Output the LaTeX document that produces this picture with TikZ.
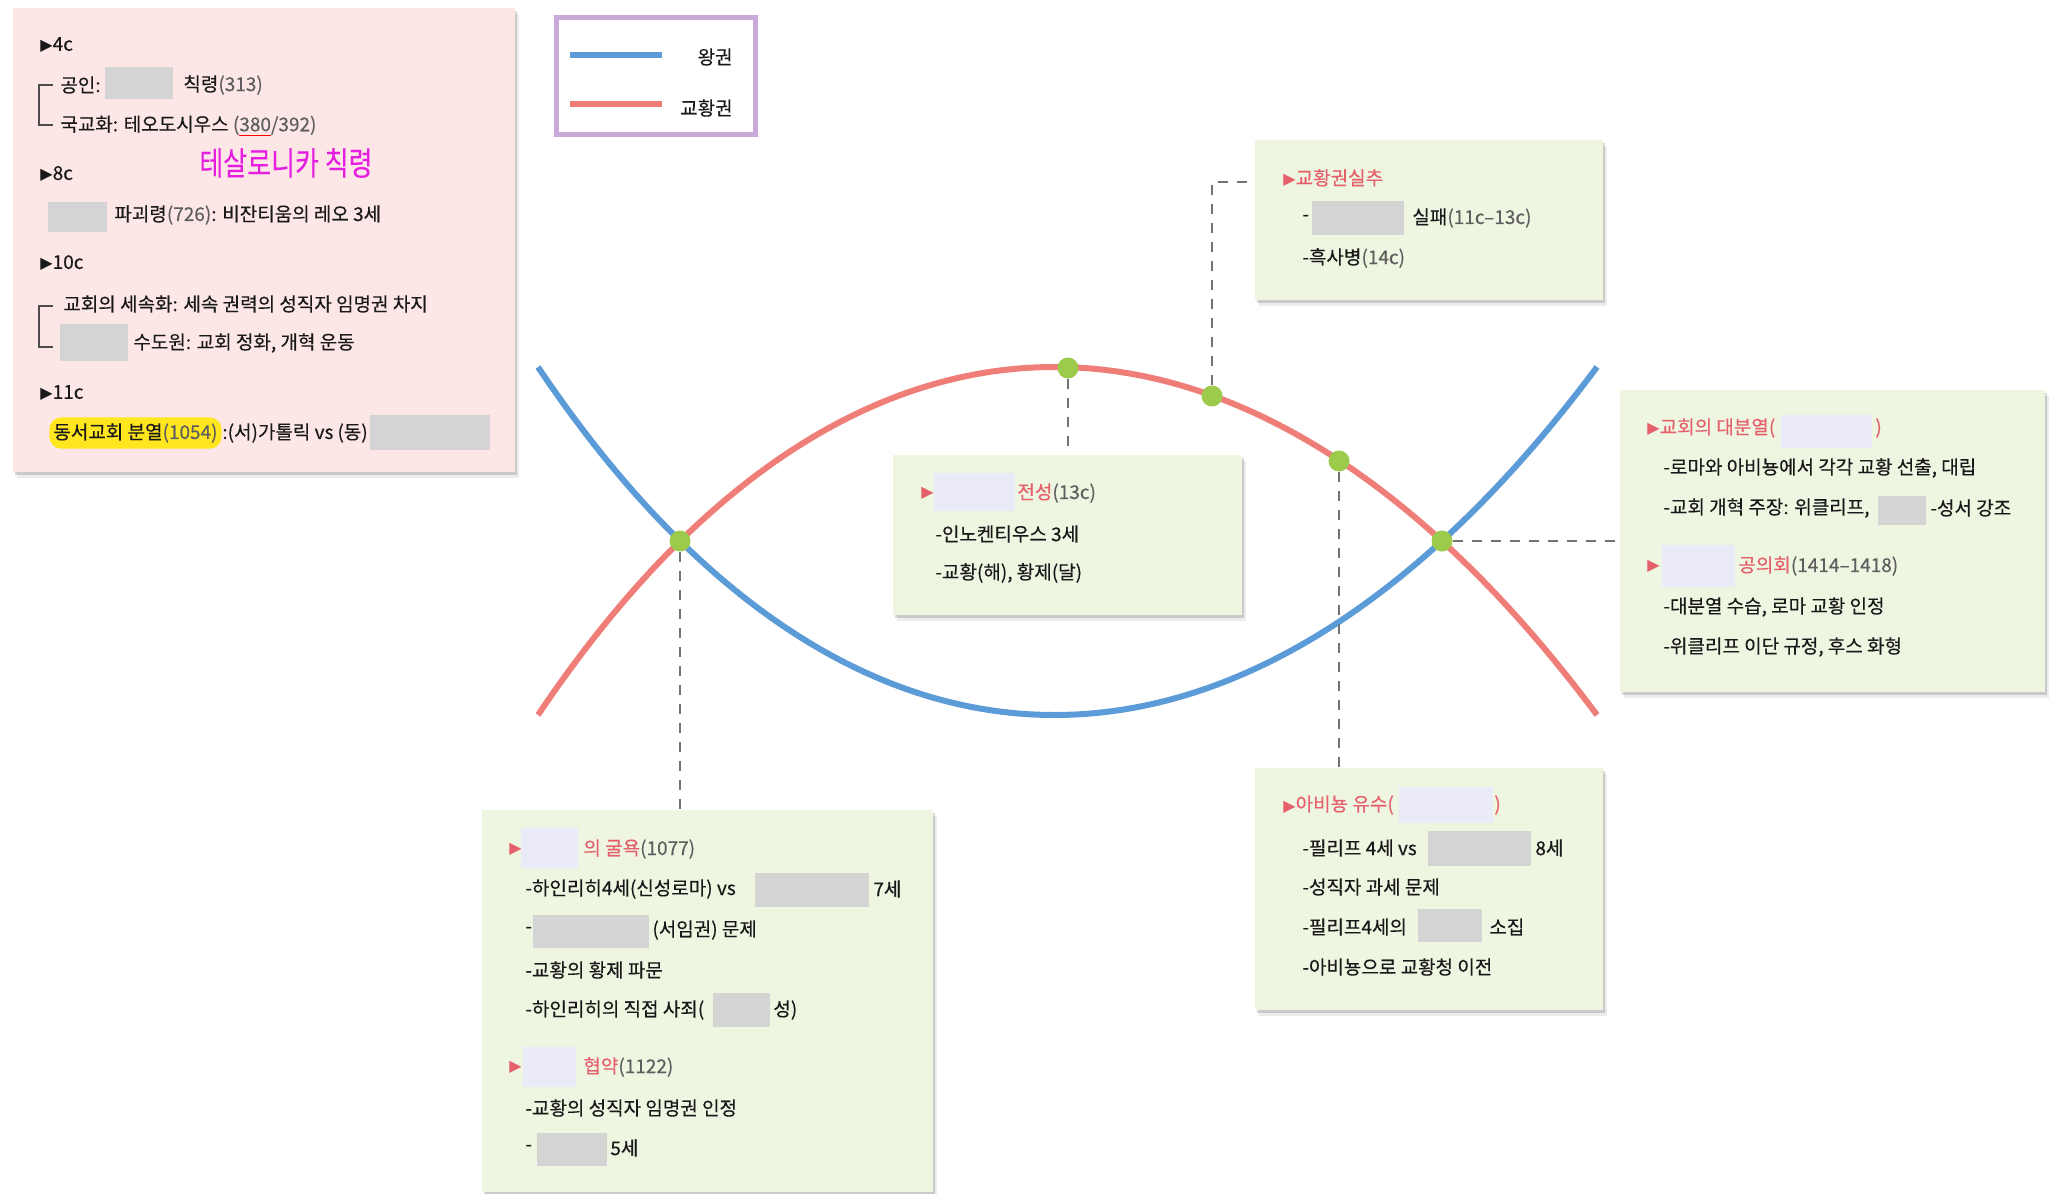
\documentclass[tikz,border=0pt]{standalone}
\usepackage{fontspec}
\setmainfont{Noto Sans CJK KR}[UprightFeatures={FakeBold=0.3}]
\newfontfamily\symf{DejaVu Sans}
\usetikzlibrary{fit,shadows,positioning}

\definecolor{kingblue}{HTML}{5A9BD8}
\definecolor{popered}{HTML}{F07E78}
\definecolor{titlered}{HTML}{E5606A}
\definecolor{numgray}{HTML}{5E5E5E}
\definecolor{blankgray}{HTML}{D4D4D4}
\definecolor{blanklav}{HTML}{EAEAF9}
\definecolor{panelgreen}{HTML}{EEF5E1}
\definecolor{panelpink}{HTML}{FCE7E6}
\definecolor{legendpurple}{HTML}{C9A9D7}
\definecolor{dotgreen}{HTML}{9CCB4B}
\definecolor{hlyellow}{HTML}{FFE61E}
\definecolor{penmagenta}{HTML}{E61EE0}

\newcommand{\kr}{\fontsize{9.5}{11}\selectfont}
\newcommand{\tri}{{\symf\fontsize{8}{8}\selectfont ▶}}
\newcommand{\nm}[1]{\textcolor{numgray}{#1}}
\newcommand{\rt}[1]{\textcolor{titlered}{#1}}
\newcommand{\redul}[1]{\setbox0\hbox{#1}\rlap{\color{red}\rule[-2.6pt]{\wd0}{0.6pt}}#1}

\NewDocumentCommand{\blankbox}{O{blankgray}mm}{%
\fill[#1] #2 rectangle #3;%
}

\tikzset{
  panel/.style={fill=panelgreen, inner sep=0pt,
    drop shadow={shadow xshift=1pt, shadow yshift=-1.5pt, opacity=.25, fill=black!60},
    drop shadow={shadow xshift=2pt, shadow yshift=-3pt, opacity=.12, fill=black!60}},
  pinkpanel/.style={panel, fill=panelpink},
  legendbox/.style={draw=legendpurple, line width=2.5pt, fill=white, inner sep=0pt},
  txt/.style={anchor=west, inner sep=0pt, font=\kr, text=black!90},
  pen/.style={inner sep=0pt, font=\fontsize{13}{14}\selectfont, text=penmagenta},
  kingline/.style={draw=kingblue, line width=3pt},
  popeline/.style={draw=popered, line width=3pt},
  dot/.style={circle, fill=dotgreen, minimum size=10.5pt, inner sep=0pt},
  conn/.style={draw=black!55, line width=1pt, dash pattern=on 5pt off 4.5pt},
  brk/.style={draw=black!70, line width=0.6pt},
}

\begin{document}
\begin{tikzpicture}[x=0.5pt, y=-0.5pt]
        \useasboundingbox (0,0) rectangle (2058,1194);
        \fill[white] (0,0) rectangle (2058,1194);

        % early church
        \node[pinkpanel, fit={(13,8) (515,472)}] (early) {};
        \node[txt] (c4) at (40,45) {\tri{}4c};
        \draw[brk] (53,85) -- (39,85) -- (39,125) -- (53,125);
        \node[txt] (c4a) at (60,85) {공인:};
        \blankbox{(105,67)}{(173,99)}
        \node[txt] (c4b) at (183,85) {칙령\nm{(313)}};
        \node[txt] (c4c) at (60,126) {국교화: 테오도시우스 \nm{(\redul{380}/392)}};
        \node[pen] (memo) at (286,163) {\scalebox{1}[1.25]{테살로니카 칙령}};
        \node[txt] (c8) at (40,174) {\tri{}8c};
        \blankbox{(48,202)}{(107,232)}
        \node[txt] (c8a) at (114,215) {파괴령\nm{(726)}: 비잔티움의 레오 3세};
        \node[txt] (c10) at (40,263) {\tri{}10c};
        \draw[brk] (53,306) -- (39,306) -- (39,347) -- (53,347);
        \node[txt] (c10a) at (63,304) {교회의 세속화: 세속 권력의 성직자 임명권 차지};
        \blankbox{(60,324)}{(128,361)}
        \node[txt] (c10b) at (133,343) {수도원: 교회 정화, 개혁 운동};
        \node[txt] (c11) at (40,393) {\tri{}11c};
        \node[txt, fill=hlyellow, rounded corners=6pt, inner xsep=2pt, inner ysep=3pt] (split) at (49,433) {동서교회 분열\nm{(1054)}};
        \node[txt, right=0pt of split] (split2) {:(서)가톨릭 vs\hspace{2pt}(동)};
        \blankbox{(370,415)}{(490,450)}

        % legend
        \node[legendbox, fit={(556,17) (755,134)}] (legend) {};
        \draw[kingline] (570,55) -- (662,55);
        \draw[popeline] (570,104) -- (662,104);
        \node[txt, anchor=east] (lking) at (733,57) {왕권};
        \node[txt, anchor=east] (lpope) at (733,108) {교황권};

        % curves
        \draw[kingline] (538,367) .. controls (849.3,831) and (1251.1,831) .. (1597,367);
        \draw[popeline] (538,715) .. controls (849.3,251) and (1251.1,251) .. (1597,715);

        % panels
        \node[panel, fit={(1255,140) (1603,300)}] (fall) {};
        \node[panel, fit={(893,455) (1242,615)}] (peak) {};
        \node[panel, fit={(1620,390) (2045,692)}] (schism) {};
        \node[panel, fit={(482,810) (933,1192)}] (hum) {};
        \node[panel, fit={(1255,768) (1603,1010)}] (avi) {};

        % decline
        \node[txt] (f1) at (1283,178) {\rt{\tri{}교황권실추}};
        \node[txt] (f2) at (1302,218) {-};
        \blankbox{(1312,201)}{(1404,235)}
        \node[txt] (f3) at (1412,218) {실패\nm{(11c--13c)}};
        \node[txt] (f4) at (1302,258) {-흑사병\nm{(14c)}};

        % 13c
        \node[txt, text=titlered] (p0) at (921,493) {\tri};
        \blankbox[blanklav]{(934,473)}{(1015,511)}
        \node[txt] (p1) at (1017,493) {\rt{전성}\nm{(13c)}};
        \node[txt] (p2) at (935,534) {-인노켄티우스 3세};
        \node[txt] (p3) at (935,573) {-교황(해), 황제(달)};

        % schism
        \node[txt] (s1) at (1647,428) {\rt{\tri{}교회의 대분열(}};
        \blankbox[blanklav]{(1781,415)}{(1872,448)}
        \node[txt] (s2) at (1875,428) {\rt{)}};
        \node[txt] (s3) at (1663,468) {-로마와 아비뇽에서 각각 교황 선출, 대립};
        \node[txt] (s4) at (1663,508) {-교회 개혁 주장: 위클리프,};
        \blankbox{(1878,496)}{(1926,525)}
        \node[txt] (s5) at (1930,508) {-성서 강조};
        \node[txt, text=titlered] (s6) at (1647,566) {\tri};
        \blankbox[blanklav]{(1662,545)}{(1735,587)}
        \node[txt] (s7) at (1738,566) {\rt{공의회}\nm{(1414--1418)}};
        \node[txt] (s8) at (1663,607) {-대분열 수습, 로마 교황 인정};
        \node[txt] (s9) at (1663,647) {-위클리프 이단 규정, 후스 화형};

        % 1077
        \node[txt, text=titlered] (h0) at (509,849) {\tri};
        \blankbox[blanklav]{(521,828)}{(578,868)}
        \node[txt] (h1) at (583,849) {\rt{의 굴욕}\nm{(1077)}};
        \node[txt] (h2) at (525,889) {-하인리히4세(신성로마) vs};
        \blankbox{(755,873)}{(869,907)}
        \node[txt] (h3) at (873,889) {7세};
        \node[txt] (h4) at (525,930) {-};
        \blankbox{(533,915)}{(649,948)}
        \node[txt] (h5) at (652,930) {(서임권) 문제};
        \node[txt] (h6) at (525,970) {-교황의 황제 파문};
        \node[txt] (h7) at (525,1010) {-하인리히의 직접 사죄(};
        \blankbox{(713,993)}{(770,1027)}
        \node[txt] (h8) at (773,1010) {성)};
        \node[txt, text=titlered] (h9) at (509,1067) {\tri};
        \blankbox[blanklav]{(523,1047)}{(576,1087)}
        \node[txt] (h10) at (583,1067) {\rt{협약}\nm{(1122)}};
        \node[txt] (h11) at (525,1108) {-교황의 성직자 임명권 인정};
        \node[txt] (h12) at (525,1148) {-};
        \blankbox{(537,1133)}{(607,1166)}
        \node[txt] (h13) at (610,1148) {5세};

        % avignon
        \node[txt] (a1) at (1283,805) {\rt{\tri{}아비뇽 유수(}};
        \blankbox[blanklav]{(1399,787)}{(1493,823)}
        \node[txt] (a2) at (1494,805) {\rt{)}};
        \node[txt] (a3) at (1302,848) {-필리프 4세 vs};
        \blankbox{(1428,831)}{(1531,866)}
        \node[txt] (a4) at (1535,848) {8세};
        \node[txt] (a5) at (1302,887) {-성직자 과세 문제};
        \node[txt] (a6) at (1302,927) {-필리프4세의};
        \blankbox{(1418,909)}{(1482,942)}
        \node[txt] (a7) at (1489,927) {소집};
        \node[txt] (a8) at (1302,967) {-아비뇽으로 교황청 이전};

        % dots
        \node[dot] (d1) at (680,541) {};
        \node[dot] (d2) at (1068,368) {};
        \node[dot] (d3) at (1212,396) {};
        \node[dot] (d4) at (1339,461) {};
        \node[dot] (d5) at (1442,541) {};
        \coordinate (k3) at (1255,182);

        \draw[conn] (d1) -- (d1 |- hum.north);
        \draw[conn] (d2) -- (d2 |- peak.north);
        \draw[conn] (d3) |- (k3);
        \draw[conn] (d4) -- (d4 |- avi.north);
        \draw[conn] (d5) -- (d5 -| schism.west);
    \end{tikzpicture}
\end{document}
